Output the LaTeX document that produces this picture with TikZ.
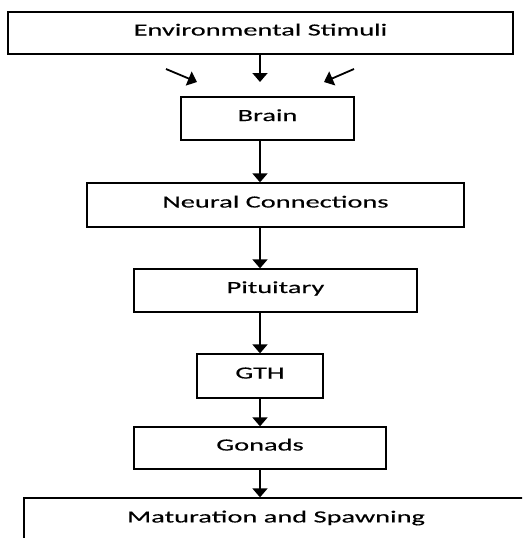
\documentclass[tikz,border=0pt]{standalone}
\usepackage{fontspec}
\setmainfont{Carlito}[FakeStretch=1.67,FakeBold=0.3]
\usetikzlibrary{arrows.meta}
\begin{document}
\begin{tikzpicture}[x=1pt,y=-1pt,
  box/.style={draw,line width=1.3pt,rectangle,inner sep=0pt,text height=12pt,text depth=7pt,font=\fontsize{17}{20}\selectfont},
  arr/.style={line width=1.8pt,-{Triangle[width=15pt,length=9pt]}}]
\useasboundingbox (0,0) rectangle (522,538);
\clip (0,0) rectangle (522,538);
\fill[white] (0,0) rectangle (522,538);
\node[box,minimum width=505pt,minimum height=42pt] (env) at (260.5,33) {Environmental Stimuli};
\node[box,minimum width=173pt,minimum height=43pt] (brain) at (267.5,118.5) {Brain};
\node[box,minimum width=377pt,minimum height=44pt] (neural) at (275.5,205) {Neural Connections};
\node[box,minimum width=283pt,minimum height=43pt] (pit) at (275.5,290.5) {Pituitary};
\node[box,minimum width=126pt,minimum height=44pt] (gth) at (260,376) {GTH};
\node[box,minimum width=252pt,minimum height=42pt] (gon) at (260,448) {Gonads};
\node[box,minimum width=540pt,minimum height=60pt] (mat) at (294,528) {};
\node[font=\fontsize{17}{20}\selectfont] (mattext) at (276,518) {Maturation and Spawning};
\coordinate (l1) at (166,69);
\coordinate (l2) at (197,82);
\coordinate (r1) at (354,69);
\coordinate (r2) at (324,82);
\coordinate (c2) at (260,82);
\draw[arr] (env.south -| c2) -- (c2);
\draw[arr] (l1) -- (l2);
\draw[arr] (r1) -- (r2);
\draw[arr] (brain.south -| c2) -- (neural.north -| c2);
\draw[arr] (neural.south -| c2) -- (pit.north -| c2);
\draw[arr] (pit.south -| c2) -- (gth.north -| c2);
\draw[arr] (gth.south -| c2) -- (gon.north -| c2);
\draw[arr] (gon.south -| c2) -- (mat.north -| c2);
\end{tikzpicture}
\end{document}
